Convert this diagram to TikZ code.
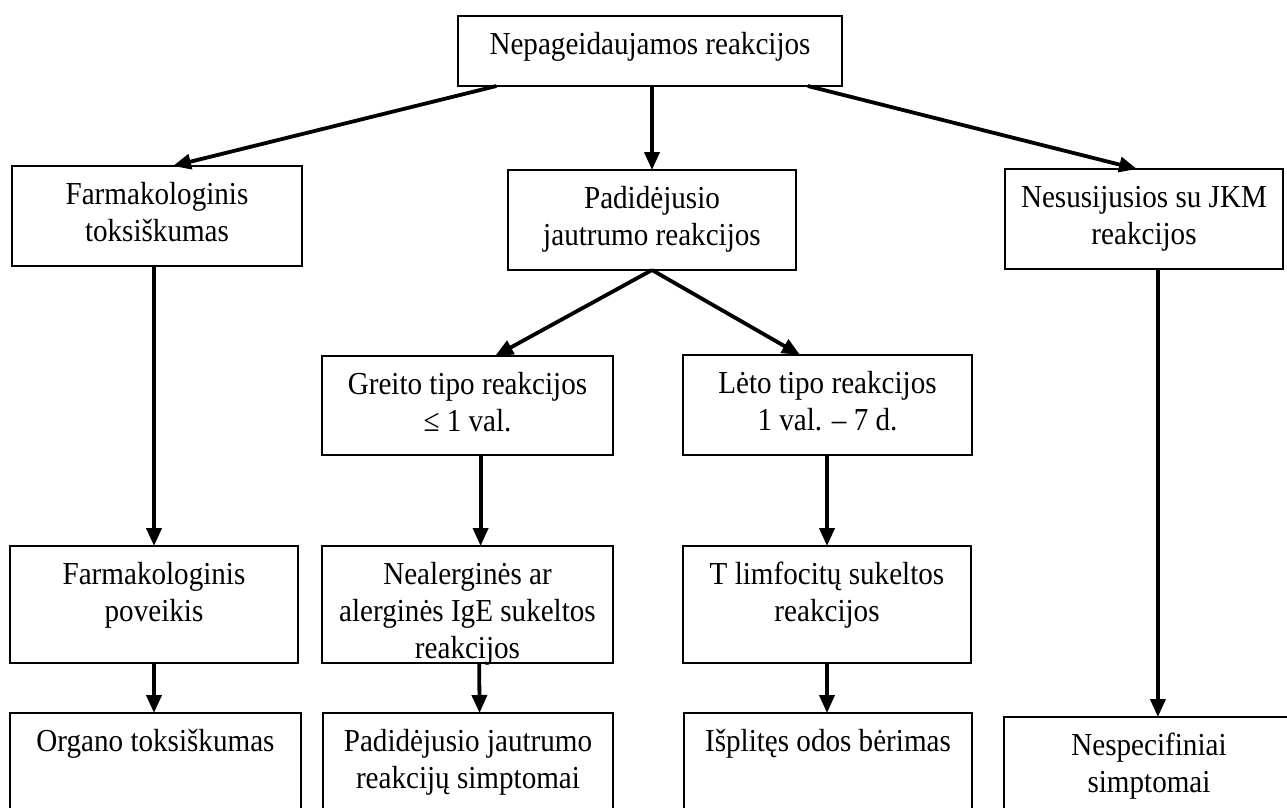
\documentclass[tikz,border=0pt]{standalone}
\usepackage{fontspec}
\setmainfont{Liberation Serif}[FakeStretch=0.91]
\usetikzlibrary{arrows.meta,calc}
\newcommand\bxt[3]{\begin{minipage}[t][#2][t]{#1}\centering\rule{0pt}{38pt}#3\end{minipage}}
\begin{document}
\begin{tikzpicture}[x=1pt,y=-1pt,
  box/.style={draw, line width=2pt, inner sep=0pt, outer sep=0pt, anchor=north west,
    font=\fontsize{32}{37}\selectfont},
  arr/.style={line width=3.8pt, -{Triangle[length=18pt,width=15pt]}}]
\useasboundingbox (0,0) rectangle (1287,807);
\clip (0,0) rectangle (1287,807);
% row 0
\node[box] (top) at (458,16) {\bxt{384pt}{70pt}{Nepageidaujamos reakcijos}};
% row 1
\node[box] (ftox) at (12,166) {\bxt{290pt}{100pt}{Farmakologinis\\toksiškumas}};
\node[box] (padid) at (508,170) {\bxt{288pt}{100pt}{Padidėjusio\\jautrumo reakcijos}};
\node[box] (nesus) at (1005,169) {\bxt{278pt}{100pt}{Nesusijusios su JKM\\reakcijos}};
% row 2
\node[box] (greito) at (322,356) {\bxt{291pt}{99pt}{Greito tipo reakcijos\\≤ 1 val.}};
\node[box] (leto) at (683,355) {\bxt{289pt}{100pt}{Lėto tipo reakcijos\\1 val. – 7 d.}};
% row 3
\node[box] (fpov) at (10,546) {\bxt{288pt}{117pt}{Farmakologinis\\poveikis}};
\node[box] (nealerg) at (322,546) {\bxt{291pt}{117pt}{Nealerginės ar\\alerginės IgE sukeltos\\reakcijos}};
\node[box] (tlimf) at (683,546) {\bxt{288pt}{117pt}{T limfocitų sukeltos\\reakcijos}};
% row 4
\node[box] (organo) at (10,713) {\bxt{291pt}{120pt}{Organo toksiškumas}};
\node[box] (psimpt) at (323,713) {\bxt{290pt}{120pt}{Padidėjusio jautrumo\\reakcijų simptomai}};
\node[box] (ispl) at (684,713) {\bxt{288pt}{120pt}{Išplitęs odos bėrimas}};
\node[box] (nespec) at (1004,717) {\bxt{290pt}{120pt}{Nespecifiniai\\simptomai}};
% connectors
\draw[arr] ($(top.south west)!0.10!(top.south east)$) -- ($(ftox.north west)!0.555!(ftox.north east)$);
\draw[arr] (padid.north |- top.south) -- (padid.north);
\draw[arr] ($(top.south west)!0.911!(top.south east)$) -- ($(nesus.north west)!0.475!(nesus.north east)$);
\draw[arr] (fpov.north |- ftox.south) -- (fpov.north);
\draw[arr] (padid.south) -- ($(greito.north west)!0.595!(greito.north east)$);
\draw[arr] (padid.south) -- ($(leto.north west)!0.405!(leto.north east)$);
\draw[arr] ($(greito.south west)!0.545!(greito.south east)$) -- ($(nealerg.north west)!0.545!(nealerg.north east)$);
\draw[arr] (tlimf.north |- leto.south) -- (tlimf.north);
\draw[arr] (fpov.south) -- (organo.north -| fpov.south);
\draw[arr] ($(nealerg.south west)!0.54!(nealerg.south east)$) -- ($(psimpt.north west)!0.54!(psimpt.north east)$);
\draw[arr] (tlimf.south) -- (ispl.north -| tlimf.south);
\draw[arr] ($(nesus.south west)!0.55!(nesus.south east)$) coordinate (nsb) -- (nespec.north -| nsb);
\end{tikzpicture}
\end{document}
